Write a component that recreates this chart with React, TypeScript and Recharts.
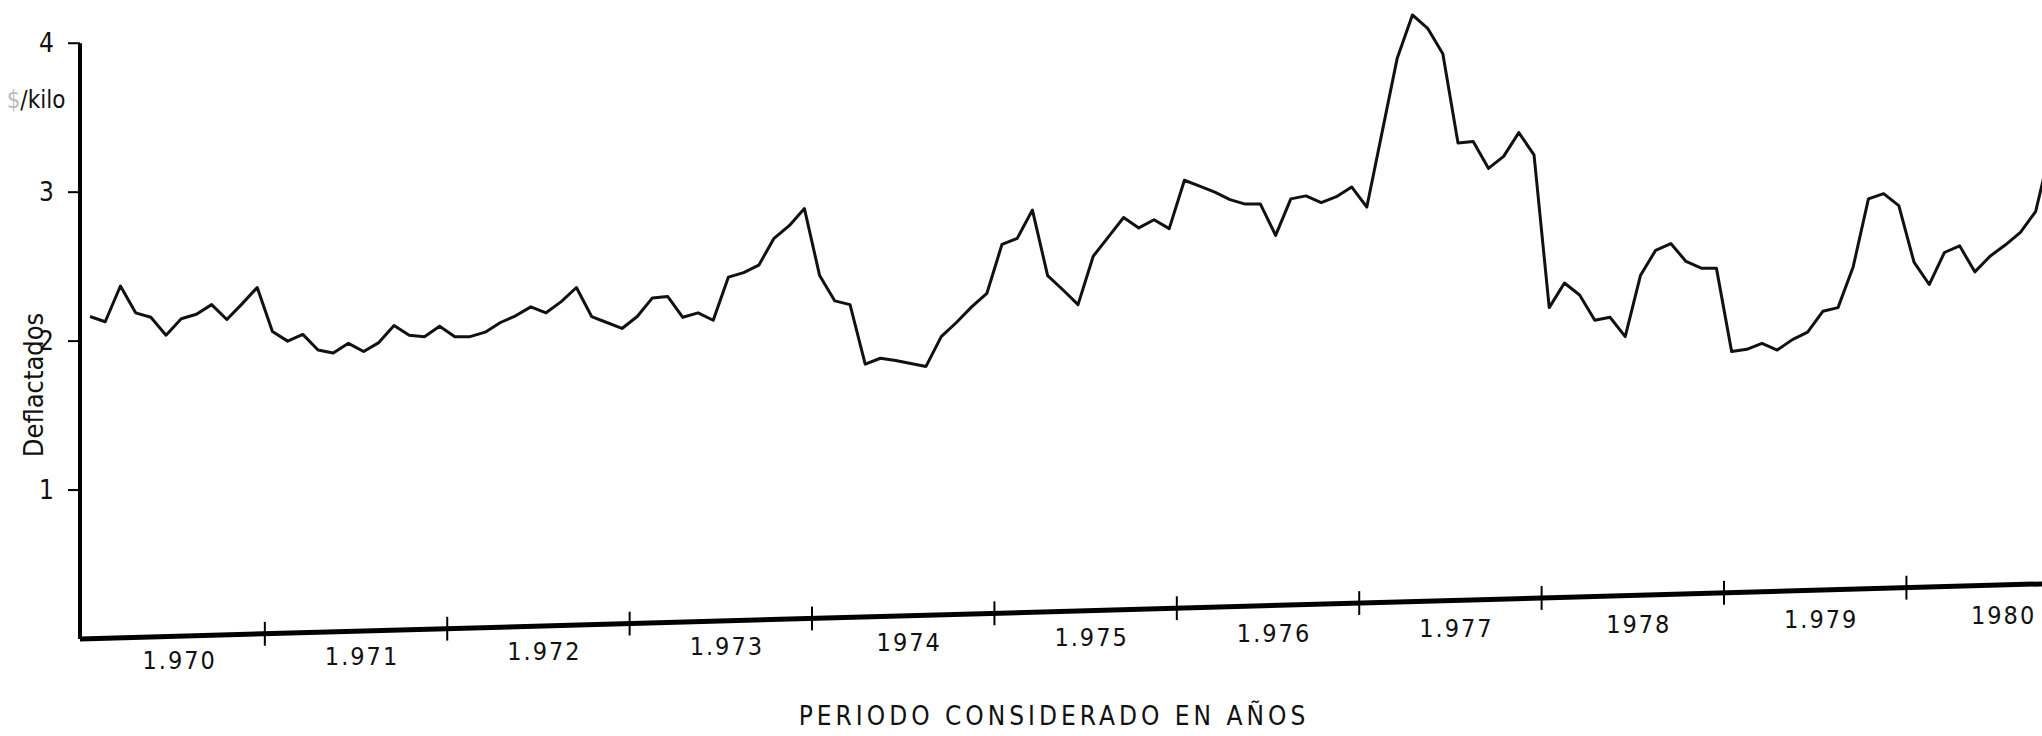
import React from "react";
import { LineChart, Line, XAxis, YAxis, ReferenceLine } from "recharts";

// monthly prices, $/kilo deflactados
const P1970 = [2.165, 2.13, 2.37, 2.19, 2.16, 2.04, 2.15, 2.18, 2.245, 2.145, 2.25, 2.36];
const P1971 = [2.065, 2.0, 2.045, 1.94, 1.92, 1.985, 1.93, 1.99, 2.105, 2.04, 2.03, 2.1];
const P1972 = [2.03, 2.03, 2.06, 2.125, 2.17, 2.23, 2.19, 2.265, 2.36, 2.165, 2.125, 2.085];
const P1973 = [2.165, 2.29, 2.3, 2.16, 2.19, 2.14, 2.43, 2.46, 2.51, 2.69, 2.775, 2.89];
const P1974 = [2.44, 2.27, 2.245, 1.845, 1.885, 1.87, 1.85, 1.83, 2.03, 2.125, 2.23, 2.32];
const P1975 = [2.65, 2.69, 2.88, 2.44, 2.345, 2.245, 2.57, 2.7, 2.83, 2.76, 2.815, 2.755];
const P1976 = [3.08, 3.04, 3.0, 2.95, 2.92, 2.92, 2.71, 2.955, 2.975, 2.93, 2.97, 3.035];
const P1977 = [2.9, 3.4, 3.9, 4.19, 4.1, 3.93, 3.33, 3.34, 3.16, 3.24, 3.4, 3.25];
const P1978 = [2.225, 2.39, 2.31, 2.14, 2.16, 2.03, 2.44, 2.61, 2.655, 2.535, 2.49, 2.49];
const P1979 = [1.93, 1.945, 1.985, 1.94, 2.01, 2.06, 2.2, 2.225, 2.5, 2.955, 2.99, 2.91];
const P1980 = [2.53, 2.38, 2.595, 2.64, 2.465, 2.57, 2.645, 2.73, 2.87, 3.3];

const YEARS = ["1.970", "1.971", "1.972", "1.973", "1974", "1.975", "1.976", "1.977", "1978", "1.979", "1980"];
const Y_TICKS = [1, 2, 3, 4];

const MONTHLY = [...P1970, ...P1971, ...P1972, ...P1973, ...P1974, ...P1975, ...P1976, ...P1977, ...P1978, ...P1979, ...P1980];
const data = MONTHLY.map((v, i) => ({ m: i, v }));

const X_MIN = -0.66;
const X_MAX = 128.42;
const AXIS_RISE = 0.37; // the scanned time axis drifts up to the right

const slant = (m: number) => (AXIS_RISE * (m - X_MIN)) / (X_MAX - X_MIN);
const yearMids = YEARS.map((_, k) => k * 12 + 5.5);
const yearEdges = YEARS.slice(1).map((_, k) => k * 12 + 11.5);

const FONT = "'Liberation Sans Narrow', 'DejaVu Sans Condensed', 'Liberation Sans', Arial, sans-serif";

function YearTick({ x, y, payload }: any) {
    const label = YEARS[Math.round((payload.value - 5.5) / 12)];
    const lift = 0.025 * (x - 80);
    return (
        <text
            x={x + 6}
            y={y + 24 - lift}
            textAnchor="middle"
            dominantBaseline="central"
            fontSize={25}
            letterSpacing={2}
            fontFamily={FONT}
            fill="#111"
        >
            {label}
        </text>
    );
}

const centered = (left: number, top: number): React.CSSProperties => ({
    position: "absolute",
    left,
    top,
    transform: "translate(-50%, -50%)",
    fontFamily: FONT,
    color: "#111",
    lineHeight: 1,
    whiteSpace: "nowrap",
});

export default function App() {
    return (
        <div style={{ position: "absolute", left: 0, top: 0, width: 2042, height: 736, background: "#fff" }}>
            <LineChart width={2042} height={736} data={data} margin={{ top: 6, right: 0, left: 0, bottom: 37 }}>
                <XAxis
                    dataKey="m"
                    type="number"
                    domain={[X_MIN, X_MAX]}
                    allowDataOverflow
                    ticks={yearMids}
                    interval={0}
                    axisLine={false}
                    tickLine={false}
                    tickSize={0}
                    tickMargin={0}
                    height={60}
                    tick={<YearTick />}
                />
                <YAxis
                    type="number"
                    domain={[0, 4.25]}
                    ticks={Y_TICKS}
                    width={80}
                    axisLine={false}
                    tickLine={{ stroke: "#000", strokeWidth: 2 }}
                    tickSize={12}
                    tickMargin={14}
                    tick={{ fill: "#111", fontSize: 26, fontFamily: FONT }}
                />
                <ReferenceLine
                    segment={[{ x: X_MIN, y: 0 }, { x: X_MIN, y: 4 }]}
                    stroke="#000"
                    strokeWidth={4}
                    ifOverflow="visible"
                />
                <ReferenceLine
                    segment={[{ x: X_MIN, y: 0 }, { x: X_MAX, y: AXIS_RISE }]}
                    stroke="#000"
                    strokeWidth={5}
                    ifOverflow="visible"
                />
                {yearEdges.map((e) => (
                    <ReferenceLine
                        key={e}
                        segment={[{ x: e, y: slant(e) - 0.08 }, { x: e, y: slant(e) + 0.08 }]}
                        stroke="#000"
                        strokeWidth={2}
                        ifOverflow="visible"
                    />
                ))}
                <Line
                    type="linear"
                    dataKey="v"
                    stroke="#111"
                    strokeWidth={3}
                    strokeLinejoin="round"
                    dot={false}
                    isAnimationActive={false}
                />
            </LineChart>
            <div style={{ ...centered(36, 100), fontSize: 24 }}>
                <span style={{ color: "#bbb" }}>$</span>/kilo
            </div>
            <div style={{ ...centered(33, 385), fontSize: 27, transform: "translate(-50%, -50%) rotate(-90deg)" }}>
                Deflactados
            </div>
            <div style={{ ...centered(1054, 716), fontSize: 26, letterSpacing: 4 }}>PERIODO CONSIDERADO EN AÑOS</div>
        </div>
    );
}
